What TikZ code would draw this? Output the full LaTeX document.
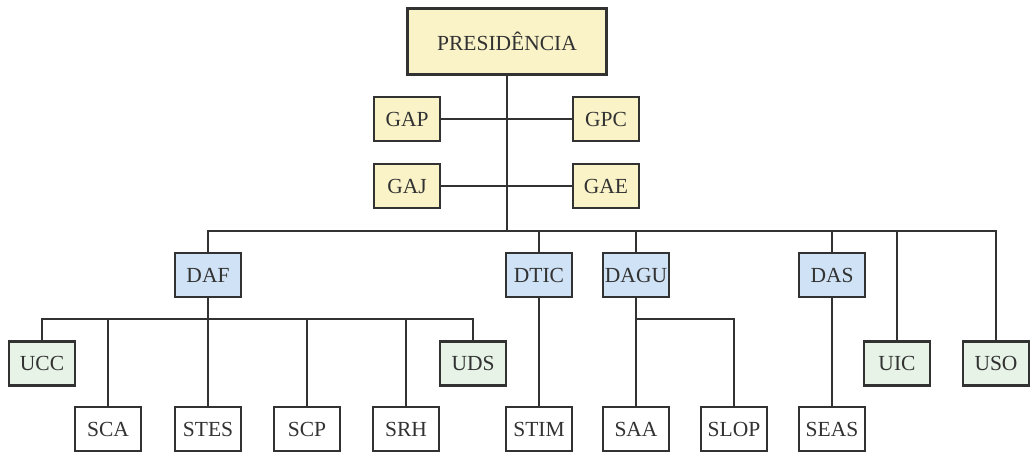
\documentclass[tikz,border=0pt]{standalone}
\usepackage{fontspec}
\setmainfont{Liberation Serif}
\definecolor{ylw}{RGB}{250,243,200}
\definecolor{blu}{RGB}{208,226,245}
\definecolor{grn}{RGB}{230,243,230}
\definecolor{ink}{RGB}{50,50,50}
\tikzset{
  box/.style={draw=ink, line width=2.4pt, minimum width=66pt, minimum height=44pt, inner sep=0pt, font=\fontsize{21.5}{24}\selectfont, text=ink},
  ybox/.style={box, fill=ylw},
  bbox/.style={box, fill=blu},
  gbox/.style={box, fill=grn},
  wbox/.style={box, fill=white},
  conn/.style={draw=ink, line width=2pt},
}
\begin{document}
\begin{tikzpicture}[x=1pt,y=-1pt]
\useasboundingbox (0,0) rectangle (1030,452);
\begin{scope}
\clip (0,0) rectangle (1030,452);
% nodes
\node[ybox, minimum width=199pt, minimum height=66pt] (pres) at (507,41.5) {PRESIDÊNCIA};
\node[ybox] (GAP) at (407,119) {GAP};
\node[ybox] (GPC) at (606,119) {GPC};
\node[ybox] (GAJ) at (407,186) {GAJ};
\node[ybox] (GAE) at (606,186) {GAE};
\node[bbox] (DAF) at (208,275) {DAF};
\node[bbox] (DTIC) at (539,275) {DTIC};
\node[bbox] (DAGU) at (636,275) {DAGU};
\node[bbox] (DAS) at (832,275) {DAS};
\node[gbox] (UCC) at (42,363.5) {UCC};
\node[gbox] (UDS) at (473,363.5) {UDS};
\node[gbox] (UIC) at (897,363.5) {UIC};
\node[gbox] (USO) at (996,363.5) {USO};
\node[wbox] (SCA) at (108,429) {SCA};
\node[wbox] (STES) at (208,429) {STES};
\node[wbox] (SCP) at (307,429) {SCP};
\node[wbox] (SRH) at (406,429) {SRH};
\node[wbox] (STIM) at (539,429) {STIM};
\node[wbox] (SAA) at (636,429) {SAA};
\node[wbox] (SLOP) at (734,429) {SLOP};
\node[wbox] (SEAS) at (832,429) {SEAS};
\coordinate (bus) at (507,231);
\coordinate (dbus) at (208,319);
\coordinate (gbus) at (636,319);
% connectors
\draw[conn] (pres.south) -- (bus);
\draw[conn] (GAP.east) -- (GPC.west);
\draw[conn] (GAJ.east) -- (GAE.west);
\draw[conn] (DAF.north) |- (bus) -| (USO.north);
\foreach \n in {DTIC,DAGU,DAS,UIC} \draw[conn] (\n.north) -- (\n.north |- bus);
\draw[conn] (DAF.south) -- (STES.north);
\draw[conn] (UCC.north) |- (dbus) -| (UDS.north);
\foreach \n in {SCA,SCP,SRH} \draw[conn] (\n.north) -- (\n.north |- dbus);
\draw[conn] (DTIC.south) -- (STIM.north);
\draw[conn] (DAGU.south) -- (SAA.north);
\draw[conn] (gbus) -| (SLOP.north);
\draw[conn] (DAS.south) -- (SEAS.north);
\end{scope}
\end{tikzpicture}
\end{document}
